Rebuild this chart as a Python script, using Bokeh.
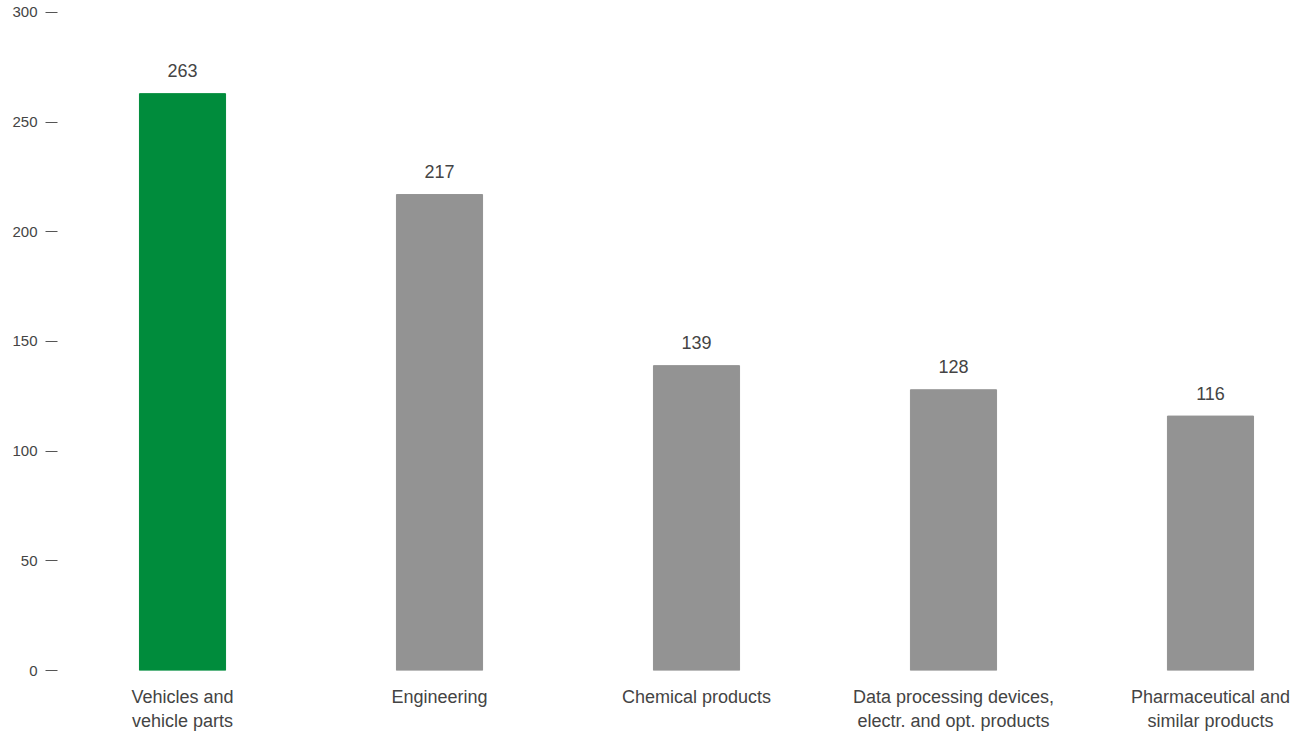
from bokeh.plotting import figure
from bokeh.models import ColumnDataSource, Range1d, FixedTicker
from bokeh.core.properties import value
from bokeh.embed import file_html
from bokeh.resources import INLINE

categories = ["Vehicles and\nvehicle parts", "Engineering", "Chemical products",
              "Data processing devices,\nelectr. and opt. products",
              "Pharmaceutical and\nsimilar products"]
values = [263, 217, 139, 128, 116]
colors = ["#008C3C", "#939393", "#939393", "#939393", "#939393"]
y_ticks = [0, 50, 100, 150, 200, 250, 300]

xs = list(range(len(categories)))
src = ColumnDataSource(dict(x=xs, top=values, color=colors,
                            label=[str(v) for v in values]))

FONT = "Liberation Sans"
p = figure(width=1300, height=735, output_backend="svg", toolbar_location=None,
           x_range=Range1d(-0.4864, 4.3502), y_range=Range1d(0, 305.47),
           min_border_left=57, min_border_right=0, min_border_top=0,
           min_border_bottom=65)
p.vbar(x="x", top="top", width=0.335, color="color", source=src)
p.text(x="x", y="top", text="label", source=src, text_align="center",
       text_baseline="middle", y_offset=-23, text_font=value(FONT),
       text_font_size="18px", text_color="#444444")

p.xgrid.visible = False
p.ygrid.visible = False
p.outline_line_color = None
p.background_fill_color = "white"
p.border_fill_color = "white"

p.xaxis.ticker = FixedTicker(ticks=xs)
p.xaxis.major_label_overrides = {i: c for i, c in enumerate(categories)}
p.xaxis.axis_line_color = None
p.xaxis.major_tick_line_color = None
p.xaxis.minor_tick_line_color = None
p.xaxis.major_label_text_font = FONT
p.xaxis.major_label_text_font_size = "18px"
p.xaxis.major_label_text_color = "#444444"
p.xaxis.major_label_standoff = 10

p.yaxis.ticker = FixedTicker(ticks=y_ticks)
p.yaxis.axis_line_color = None
p.yaxis.major_tick_in = 0
p.yaxis.major_tick_out = 12
p.yaxis.major_tick_line_color = "#555555"
p.yaxis.minor_tick_line_color = None
p.yaxis.major_label_text_font = FONT
p.yaxis.major_label_text_font_size = "15px"
p.yaxis.major_label_text_color = "#444444"
p.yaxis.major_label_standoff = 8

open("out.html", "w").write(file_html(p, INLINE))
